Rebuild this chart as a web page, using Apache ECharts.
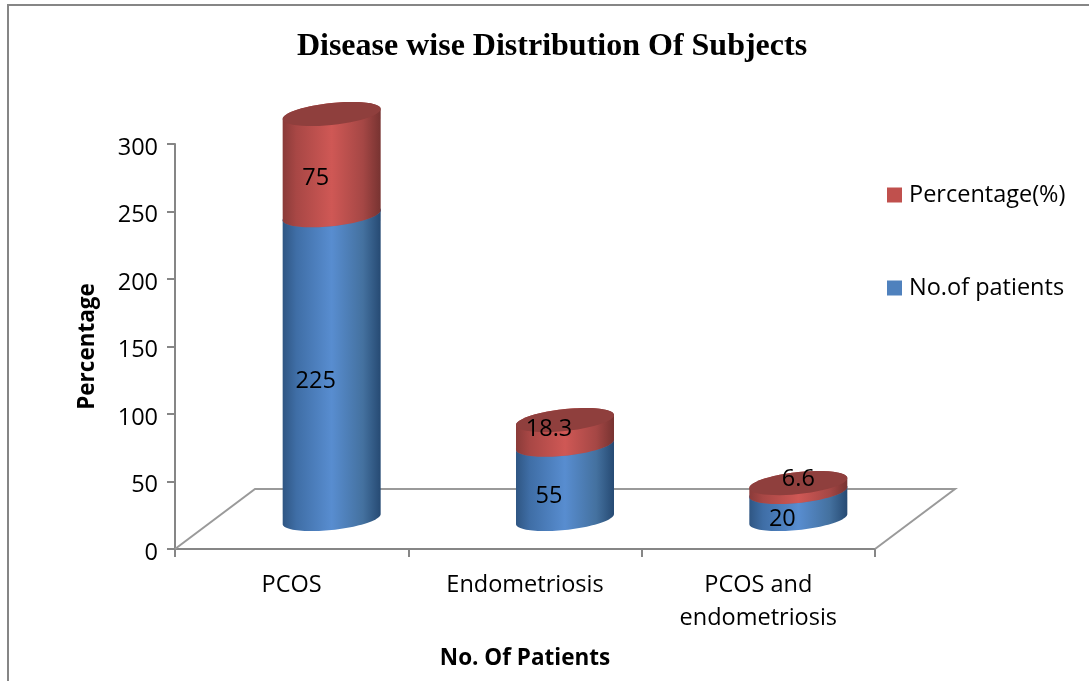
<!DOCTYPE html>
<html>
<head>
<meta charset="utf-8">
<script src="https://cdn.jsdelivr.net/npm/echarts@6/dist/echarts.min.js"></script>
<style>
  html, body { margin: 0; padding: 0; background: #fff; }
  #chart { width: 1089px; height: 681px; }
</style>
</head>
<body>
<div id="chart"></div>
<script>
// ─── Data ─────────────────────────────────────────────────────────────────
const categories = ["PCOS", "Endometriosis", "PCOS and\nendometriosis"];
const patients = [225, 55, 20];
const percentage = [75, 18.3, 6.6];

// ─── Look of the fake 3D ──────────────────────────────────────────────────
const depthX = 80, depthY = 60;     // floor depth, bars stand halfway in
const radiusRatio = 0.21;           // cylinder radius / band width
const ellipseRy = 11, ellipseTilt = 5;
const labelOffset = [24, -16];
const labelNudge = { "18.3": [0, -17], "6.6": [16, -22] };

const axisGrey = "#868686";
const labelFont = "'Open Sans', sans-serif";
const labelSize = 23.5;

function sideGradient(stops) {
  return new echarts.graphic.LinearGradient(0, 0, 1, 0,
    stops.map((c, i) => ({ offset: c[0], color: c[1] })));
}
const blueSide = sideGradient([[0, "#2f5683"], [0.14, "#3f6ea6"], [0.5, "#588dd0"], [0.82, "#44719f"], [1, "#264a73"]]);
const redSide = sideGradient([[0, "#8a3b39"], [0.14, "#a84745"], [0.5, "#cf5855"], [0.82, "#a54745"], [1, "#773331"]]);

// ─── Cylinder helpers ─────────────────────────────────────────────────────

function ellipsePoint(cx, cy, rx, t) {
  return [cx + rx * Math.cos(t), cy + ellipseRy * Math.sin(t) - ellipseTilt * Math.cos(t)];
}

function arcPoints(cx, cy, rx, from, to) {
  const pts = [];
  for (let i = 0; i <= 48; i++) {
    pts.push(ellipsePoint(cx, cy, rx, from + (to - from) * i / 48));
  }
  return pts;
}

function cylinderItem(side, top) {
  return function (params, api) {
    const band = api.size([1, 0])[0];
    const rx = band * radiusRatio;
    const low = api.coord([api.value(0), api.value(1)]);
    const high = api.coord([api.value(0), api.value(2)]);
    const cx = low[0] + depthX / 2;
    const yLow = low[1] - depthY / 2;
    const yHigh = high[1] - depthY / 2;
    const body = arcPoints(cx, yLow, rx, 0, Math.PI).concat(arcPoints(cx, yHigh, rx, Math.PI, 2 * Math.PI));
    const text = String(api.value(3));
    const nudge = labelNudge[text] || [0, 0];
    const mid = api.coord([api.value(0), (api.value(1) + api.value(2)) / 2]);
    return {
      type: "group",
      children: [
        { type: "polygon", shape: { points: body }, style: { fill: side } },
        { type: "polygon", shape: { points: arcPoints(cx, yHigh, rx, 0, 2 * Math.PI) }, style: { fill: top } },
        {
          type: "text",
          x: mid[0] + labelOffset[0] + nudge[0],
          y: mid[1] + labelOffset[1] + nudge[1],
          style: { text, font: labelSize + "px " + labelFont, fill: "#000", align: "center", verticalAlign: "middle" }
        }
      ]
    };
  };
}

function floorItem(params, api) {
  const band = api.size([1, 0])[0];
  const first = api.coord([0, 0]);
  const last = api.coord([categories.length - 1, 0]);
  const x0 = first[0] - band / 2, x1 = last[0] + band / 2, y = first[1];
  return {
    type: "polyline",
    shape: { points: [[x0, y], [x0 + depthX, y - depthY], [x1 + depthX, y - depthY], [x1, y]] },
    style: { stroke: "#9a9a9a", lineWidth: 2, fill: null }
  };
}

// ─── Series ───────────────────────────────────────────────────────────────

const patientRows = categories.map((c, i) => [i, 0, patients[i], patients[i]]);
const percentRows = categories.map((c, i) => [i, patients[i], patients[i] + percentage[i], percentage[i]]);

const chart = echarts.init(document.getElementById("chart"));
chart.setOption({
  animation: false,
  backgroundColor: "#fff",
  title: {
    text: "Disease wise Distribution Of Subjects",
    left: 547, top: 26, textAlign: "center",
    textStyle: { fontFamily: "'Liberation Serif', serif", fontWeight: "bold", fontSize: 32, color: "#000" }
  },
  legend: {
    data: ["Percentage(%)", "No.of patients"],
    orient: "vertical",
    left: 882, top: 178,
    itemWidth: 15, itemHeight: 15, itemGap: 69,
    itemStyle: { borderWidth: 0 },
    icon: "rect",
    textStyle: { fontFamily: labelFont, fontSize: labelSize, color: "#000", padding: [0, 0, 0, 2] }
  },
  graphic: [{
    type: "rect",
    shape: { x: 8, y: 5, width: 1100, height: 690 },
    style: { fill: null, stroke: axisGrey, lineWidth: 2 },
    silent: true
  }],
  grid: { left: 175, top: 144, width: 700, height: 405 },
  xAxis: {
    type: "category",
    data: categories,
    name: "No. Of Patients",
    nameLocation: "middle",
    nameGap: 98,
    nameTextStyle: { fontFamily: labelFont, fontWeight: "bold", fontSize: 22.5, color: "#000" },
    axisLine: { lineStyle: { color: axisGrey, width: 2 } },
    axisTick: { show: true, alignWithLabel: false, length: 8, lineStyle: { color: axisGrey, width: 2 } },
    axisLabel: { fontFamily: labelFont, fontSize: labelSize, color: "#000", margin: 20, lineHeight: 33, interval: 0 }
  },
  yAxis: {
    type: "value",
    min: 0, max: 300, interval: 50,
    name: "Percentage",
    nameLocation: "middle",
    nameGap: 76,
    nameTextStyle: { fontFamily: labelFont, fontWeight: "bold", fontSize: 22.5, color: "#000" },
    axisLine: { show: true, lineStyle: { color: axisGrey, width: 2 } },
    axisTick: { show: true, length: 8, lineStyle: { color: axisGrey, width: 2 } },
    axisLabel: { fontFamily: labelFont, fontSize: labelSize, color: "#000", margin: 17, verticalAlign: "top", lineHeight: 8 },
    splitLine: { show: false }
  },
  series: [
    { type: "custom", name: "floor", z: 1, clip: false, silent: true, data: [[0]], renderItem: floorItem, encode: { x: 0 } },
    {
      type: "custom", name: "No.of patients", z: 2, clip: false,
      itemStyle: { color: "#4f81bd" },
      data: patientRows,
      encode: { x: 0, y: [1, 2] },
      renderItem: cylinderItem(blueSide, "#4a78ad")
    },
    {
      type: "custom", name: "Percentage(%)", z: 3, clip: false,
      itemStyle: { color: "#c0504d" },
      data: percentRows,
      encode: { x: 0, y: [1, 2] },
      renderItem: cylinderItem(redSide, "#8f3f3d")
    }
  ]
});
</script>
</body>
</html>
